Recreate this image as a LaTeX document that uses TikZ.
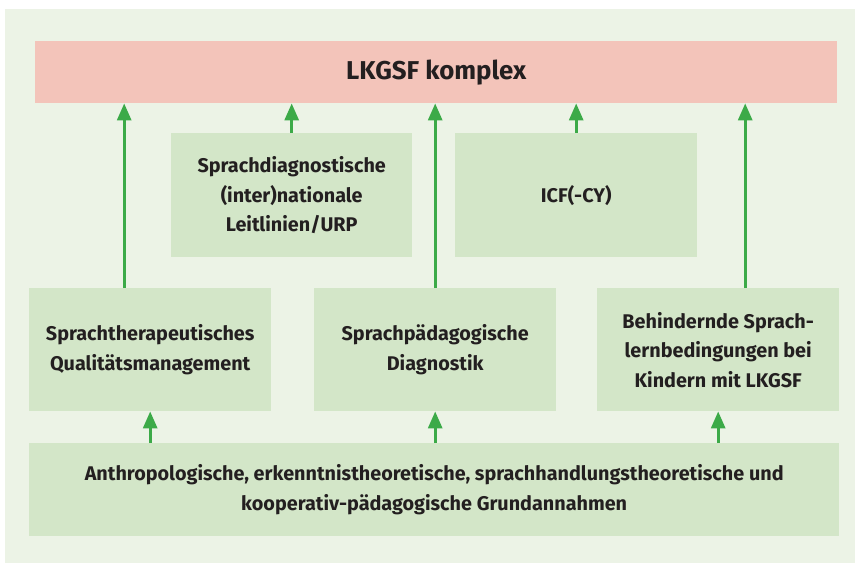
\documentclass[tikz,border=0pt]{standalone}
\usepackage{fontspec}
\setmainfont{Fira Sans}
\usetikzlibrary{arrows.meta, positioning}

\definecolor{panelbg}{RGB}{236,243,230}
\definecolor{boxbg}{RGB}{211,230,200}
\definecolor{topbg}{RGB}{243,196,186}
\definecolor{arrgreen}{RGB}{60,170,72}
\definecolor{txt}{RGB}{35,31,32}

\begin{document}
\begin{tikzpicture}[
  x=1pt, y=-1pt,
  box/.style={
    fill=boxbg, inner sep=0pt, anchor=north west,
    align=center, text=txt, font=\bfseries\fontsize{19.8}{29.5}\selectfont
  },
  arr/.style={-{Triangle[length=17pt, width=14pt]}, line width=3pt, arrgreen}
]
\useasboundingbox (0,0) rectangle (855,563);
\fill[panelbg] (5,9) rectangle (855,563);

% top
\node[box, fill=topbg, minimum width=802pt, minimum height=62pt,
  font=\bfseries\fontsize{25.8}{30}\selectfont] (top) at (35,41) {LKGSF komplex};

% second row
\node[box, minimum width=241pt, minimum height=124pt] (leit) at (171,133)
  {Sprachdiagnostische\\(inter)nationale\\Leitlinien/URP};
\node[box, minimum width=242pt, minimum height=124pt] (icf) at (455,133)
  {ICF(-CY)};

% third row
\node[box, minimum width=242pt, minimum height=123pt] (quali) at (29,288)
  {Sprachtherapeutisches\\Qualitätsmanagement};
\node[box, minimum width=242pt, minimum height=123pt] (diag) at (314,288)
  {Sprachpädagogische\\Diagnostik};
\node[box, minimum width=242pt, minimum height=123pt] (bed) at (597,288)
  {Behindernde Sprach-\\lernbedingungen bei\\Kindern mit LKGSF};

% bottom
\node[box, minimum width=810pt, minimum height=93pt] (grund) at (29,443)
  {Anthropologische, erkenntnistheoretische, sprachhandlungstheoretische und\\kooperativ-pädagogische Grundannahmen};

% arrows to the top
\draw[arr] ([xshift=-26pt]quali.north) -- ([xshift=-26pt]quali.north |- top.south);
\draw[arr] (leit.north) -- (leit.north |- top.south);
\draw[arr] (diag.north) -- (diag.north |- top.south);
\draw[arr] (icf.north) -- (icf.north |- top.south);
\draw[arr] ([xshift=27pt]bed.north) -- ([xshift=27pt]bed.north |- top.south);

% arrows from the bottom
\draw[arr] (grund.north -| quali.north) -- (quali.south);
\draw[arr] (grund.north -| diag.north) -- (diag.south);
\draw[arr] (grund.north -| bed.north) -- (bed.south);
\end{tikzpicture}
\end{document}
